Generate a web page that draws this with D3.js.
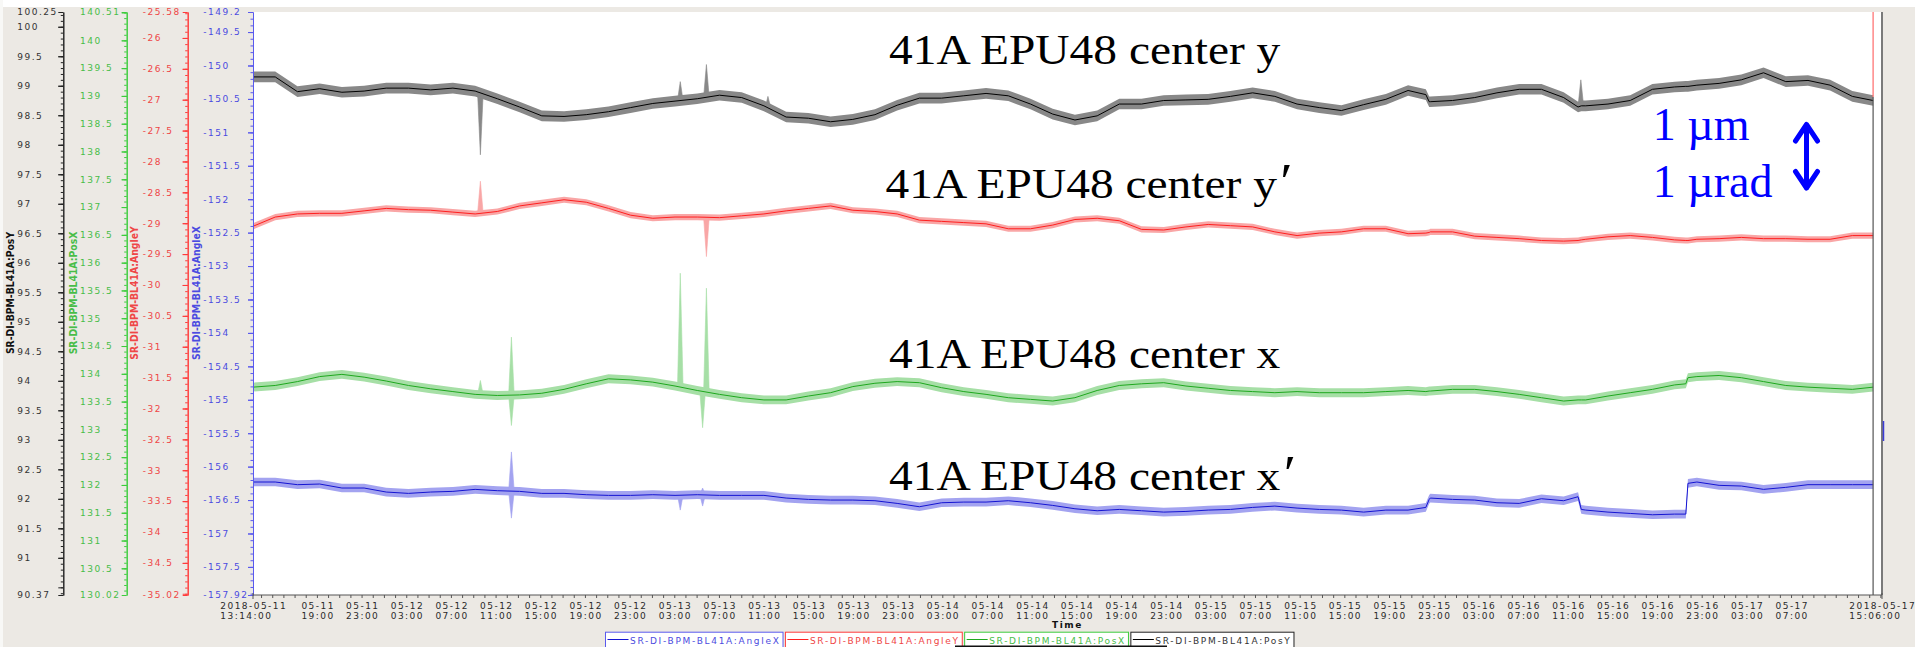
<!DOCTYPE html>
<html>
<head>
<meta charset="utf-8">
<script src="https://cdn.jsdelivr.net/npm/d3@7"></script>
<style>
body { margin: 0; background: #ece9e4; }
svg { display: block; }
</style>
</head>
<body>
<svg id="chart" width="1915" height="647"></svg>
<script>
/*jslint browser: true*/
/*globals d3*/

// hours after 2018-05-11 13:14 (UTC used as plain clock time)
var hours = [0, 1.99, 3.98, 5.97, 7.96, 9.95, 11.93, 13.92, 15.91, 17.90, 19.89, 21.88, 23.87, 25.86, 27.85,
    29.84, 31.83, 33.81, 35.80, 37.79, 39.78, 41.77, 43.76, 45.75, 47.74, 49.73, 51.72, 53.71, 55.69, 57.68,
    59.67, 61.66, 63.65, 65.64, 67.63, 69.62, 71.61, 73.60, 75.59, 77.57, 79.56, 81.55, 83.54, 85.53, 87.52,
    89.51, 91.50, 93.49, 95.48, 97.46, 99.45, 101.44, 103.43, 105.02, 105.32, 105.42, 107.41, 109.40, 111.39,
    113.38, 115.37, 117.36, 118.65, 118.94, 119.34, 121.33, 123.32, 125.31, 127.30, 128.30, 128.49, 129.29,
    131.28, 133.27, 135.26, 137.25, 139.24, 141.22, 143.21, 145.07];

var angleX = [-156.23, -156.23, -156.27, -156.26, -156.32, -156.32, -156.38, -156.40, -156.38, -156.37, -156.34,
    -156.36, -156.37, -156.40, -156.40, -156.42, -156.43, -156.43, -156.42, -156.43, -156.42, -156.43, -156.43,
    -156.43, -156.47, -156.49, -156.50, -156.50, -156.51, -156.55, -156.60, -156.54, -156.53, -156.53, -156.51,
    -156.54, -156.58, -156.63, -156.66, -156.64, -156.66, -156.68, -156.67, -156.65, -156.64, -156.61, -156.59,
    -156.62, -156.64, -156.65, -156.68, -156.65, -156.65, -156.61, -156.49, -156.47, -156.49, -156.50, -156.54,
    -156.55, -156.48, -156.51, -156.45, -156.64, -156.65, -156.68, -156.70, -156.72, -156.71, -156.71, -156.25,
    -156.23, -156.28, -156.29, -156.34, -156.31, -156.27, -156.27, -156.27, -156.27];

var angleY = [-29.05, -28.90, -28.85, -28.84, -28.84, -28.80, -28.76, -28.78, -28.79, -28.82, -28.85, -28.81,
    -28.72, -28.67, -28.62, -28.66, -28.76, -28.87, -28.92, -28.90, -28.90, -28.91, -28.88, -28.85, -28.80,
    -28.76, -28.72, -28.79, -28.81, -28.85, -28.95, -28.97, -28.99, -29.01, -29.09, -29.09, -29.03, -28.94,
    -28.92, -28.96, -29.10, -29.11, -29.06, -29.02, -29.04, -29.06, -29.14, -29.20, -29.16, -29.14, -29.09,
    -29.09, -29.17, -29.16, -29.15, -29.14, -29.14, -29.21, -29.23, -29.25, -29.28, -29.29, -29.28, -29.27,
    -29.26, -29.22, -29.20, -29.23, -29.27, -29.28, -29.28, -29.26, -29.25, -29.23, -29.25, -29.25, -29.26,
    -29.26, -29.20, -29.20];

var posX = [133.76, 133.79, 133.86, 133.95, 133.99, 133.94, 133.87, 133.79, 133.73, 133.68, 133.63, 133.61,
    133.62, 133.65, 133.72, 133.82, 133.91, 133.89, 133.85, 133.78, 133.70, 133.63, 133.57, 133.53, 133.53,
    133.60, 133.66, 133.77, 133.83, 133.86, 133.84, 133.75, 133.68, 133.63, 133.57, 133.54, 133.51, 133.57,
    133.70, 133.79, 133.82, 133.84, 133.78, 133.74, 133.70, 133.68, 133.66, 133.68, 133.66, 133.66, 133.66,
    133.68, 133.70, 133.68, 133.69, 133.69, 133.72, 133.72, 133.68, 133.63, 133.57, 133.51, 133.53, 133.53,
    133.53, 133.60, 133.66, 133.72, 133.80, 133.82, 133.93, 133.95, 133.97, 133.93, 133.86, 133.79, 133.76,
    133.74, 133.72, 133.76];

var posY = [99.15, 99.15, 98.90, 98.95, 98.89, 98.91, 98.96, 98.96, 98.93, 98.96, 98.91, 98.78, 98.64, 98.49,
    98.48, 98.51, 98.56, 98.63, 98.70, 98.74, 98.78, 98.84, 98.80, 98.66, 98.47, 98.45, 98.39, 98.43, 98.51,
    98.67, 98.79, 98.79, 98.83, 98.87, 98.83, 98.69, 98.52, 98.42, 98.49, 98.69, 98.69, 98.75, 98.76, 98.77,
    98.82, 98.88, 98.82, 98.69, 98.63, 98.58, 98.68, 98.77, 98.92, 98.85, 98.73, 98.73, 98.75, 98.80, 98.88,
    98.94, 98.94, 98.80, 98.64, 98.66, 98.66, 98.69, 98.75, 98.94, 98.98, 98.99, 98.99, 99.01, 99.04, 99.10,
    99.22, 99.07, 99.09, 99.01, 98.82, 98.75];

// short glitches: [hour, extreme value]
var angleXSpikes = [[23.14, -155.78], [23.14, -156.77], [38.26, -156.65], [40.26, -156.32], [40.26, -156.59]];
var angleYSpikes = [[20.36, -28.32], [40.60, -29.54]];
var posXSpikes = [[20.36, 133.88], [23.14, 134.66], [23.14, 133.07], [38.26, 135.81], [40.26, 133.03],
    [40.60, 135.54]];
var posYSpikes = [[20.36, 97.83], [38.26, 99.07], [40.60, 99.36], [46.11, 98.82], [118.90, 99.10]];

// half width of the min/max envelope, per series
var bandHalfWidth = [0.065, 0.05, 0.08, 0.09];

var seriesNames = ["SR-DI-BPM-BL41A:AngleX", "SR-DI-BPM-BL41A:AngleY", "SR-DI-BPM-BL41A:PosX",
    "SR-DI-BPM-BL41A:PosY"];
var axisDomains = [[-157.92, -149.2], [-35.02, -25.58], [130.02, 140.51], [90.37, 100.25]];

var titles = ["41A EPU48 center y", "41A EPU48 center y\u2032", "41A EPU48 center x", "41A EPU48 center x\u2032"];

(function () {
    "use strict";

    var svg = d3.select("#chart"),
        top = 12,
        bottom = 595,
        left = 253,
        right = 1882,
        start = Date.UTC(2018, 4, 11, 13, 14),
        end = Date.UTC(2018, 4, 17, 15, 6),
        font = "'DejaVu Sans', sans-serif",
        serif = "'Liberation Serif', 'Times New Roman', serif",
        x,
        styles,
        series,
        hourTicks,
        labelTicks,
        fmtDay = d3.utcFormat("%m-%d"),
        fmtHour = d3.utcFormat("%H:%M"),
        fmtFullDay = d3.utcFormat("%Y-%m-%d"),
        fmtFullHour = d3.utcFormat("%H:%M:%S"),
        xg,
        lx,
        xEnd;

    function toDate(h) {
        return new Date(start + h * 3600000);
    }

    function fmtNum(v) {
        return String(+v.toFixed(2));
    }

    svg.append("rect").attr("width", 1915).attr("height", 647).attr("fill", "#ece9e4");
    svg.append("rect").attr("width", 1915).attr("height", 7).attr("fill", "#fff");
    svg.append("rect").attr("width", 3).attr("height", 647).attr("fill", "#f8f8f6");
    svg.append("rect").attr("x", left).attr("y", top)
        .attr("width", right - left).attr("height", bottom - top).attr("fill", "#fff");

    x = d3.scaleUtc().domain([new Date(start), new Date(end)]).range([left, right]);

    styles = [
        {line: "#1414d2", band: "#a3a3f0", axis: "#5a5aee", text: "#4b4be0", axisX: 253, labelX: 203.3, titleX: 195.5},
        {line: "#ff1f1f", band: "#f9a6a6", axis: "#ff3b3b", text: "#ef4646", axisX: 187.7, labelX: 142.7, titleX: 134},
        {line: "#1ea81e", band: "#a6dfa6", axis: "#3ccc3c", text: "#48bd48", axisX: 126.7, labelX: 80, titleX: 72.5},
        {line: "#000", band: "#888", axis: "#222", text: "#333", axisX: 63.3, labelX: 17.3, titleX: 9.5}
    ];

    series = [angleX, angleY, posX, posY].map(function (vals, i) {
        return {
            name: seriesNames[i],
            style: styles[i],
            spread: bandHalfWidth[i],
            domain: axisDomains[i],
            spikes: [angleXSpikes, angleYSpikes, posXSpikes, posYSpikes][i],
            y: d3.scaleLinear().domain(axisDomains[i]).range([bottom, top]),
            data: hours.map(function (h, j) { return {date: toDate(h), h: h, v: vals[j]}; })
        };
    });

    // envelopes, glitches and mean lines
    series.forEach(function (s) {
        var y = s.y,
            g = svg.append("g"),
            bis = d3.bisector(function (d) { return d.h; }).left;

        g.append("path")
            .datum(s.data)
            .attr("fill", s.style.band)
            .attr("d", d3.area()
                .x(function (d) { return x(d.date); })
                .y0(function (d) { return y(d.v - s.spread); })
                .y1(function (d) { return y(d.v + s.spread); }));

        s.spikes.forEach(function (sp) {
            var i = bis(s.data, sp[0]),
                a = s.data[i - 1],
                b = s.data[i],
                base = a.v + (b.v - a.v) * (sp[0] - a.h) / (b.h - a.h),
                pts = [[sp[0] - 0.25, base], [sp[0], sp[1]], [sp[0] + 0.25, base]];
            g.append("path")
                .attr("fill", s.style.band)
                .attr("stroke", s.style.band)
                .attr("stroke-width", 0.6)
                .attr("d", d3.line()
                    .x(function (p) { return x(toDate(p[0])); })
                    .y(function (p) { return y(p[1]); })(pts) + "Z");
        });

        g.append("path")
            .datum(s.data)
            .attr("fill", "none")
            .attr("stroke", s.style.line)
            .attr("stroke-width", 1)
            .attr("d", d3.line()
                .x(function (d) { return x(d.date); })
                .y(function (d) { return y(d.v); }));
    });

    // end-of-data marker and plot border
    xEnd = x(toDate(hours[hours.length - 1]));
    svg.append("line").attr("x1", xEnd).attr("x2", xEnd)
        .attr("y1", top).attr("y2", 97).attr("stroke", "#ff6a6a").attr("stroke-width", 1.2);
    svg.append("line").attr("x1", xEnd).attr("x2", xEnd)
        .attr("y1", 97).attr("y2", bottom).attr("stroke", "#555").attr("stroke-width", 1.2);
    svg.append("line").attr("x1", right).attr("x2", right).attr("y1", top).attr("y2", bottom)
        .attr("stroke", "#7a7a7a").attr("stroke-width", 2);
    svg.append("line").attr("x1", right + 1.5).attr("x2", right + 1.5).attr("y1", 421).attr("y2", 441)
        .attr("stroke", "#3b3bd8").attr("stroke-width", 1.5);

    // value axes, labels flush left as in the archiver viewer
    series.forEach(function (s) {
        var y = s.y,
            lo = s.domain[0],
            hi = s.domain[1],
            halves = d3.range(Math.ceil(lo * 2), Math.floor(hi * 2) + 1).map(function (k) { return k / 2; }),
            tenths = d3.range(Math.ceil(lo * 10), Math.floor(hi * 10) + 1).map(function (k) { return k / 10; }),
            labelled = [lo].concat(halves.filter(function (v) {
                return Math.abs(y(v) - y(lo)) > 12 && Math.abs(y(v) - y(hi)) > 12;
            }), [hi]),
            gMinor,
            gMajor;

        gMinor = svg.append("g").attr("transform", "translate(" + s.style.axisX + ",0)")
            .call(d3.axisLeft(y).tickValues(tenths).tickSize(2.5).tickSizeOuter(0).tickFormat(""));
        gMajor = svg.append("g").attr("transform", "translate(" + s.style.axisX + ",0)")
            .call(d3.axisLeft(y).tickValues(halves.concat(labelled)).tickSize(5).tickSizeOuter(0).tickFormat(""));
        [gMinor, gMajor].forEach(function (g) {
            g.selectAll("path, line").attr("stroke", s.style.axis).attr("stroke-width", 1);
        });

        svg.append("g").selectAll("text").data(labelled).enter().append("text")
            .attr("x", s.style.labelX)
            .attr("y", function (v) { return y(v) + 3.3; })
            .attr("fill", s.style.text)
            .style("font-family", font)
            .style("font-size", "9px")
            .style("letter-spacing", "1.5px")
            .text(fmtNum);

        svg.append("text")
            .attr("transform", "translate(" + s.style.titleX + ",293) scale(1.2,1) rotate(-90)")
            .attr("text-anchor", "middle")
            .attr("dominant-baseline", "central")
            .attr("fill", s.style.axis === "#222" ? "#111" : s.style.text)
            .style("font-family", font)
            .style("font-size", "9.3px")
            .style("font-weight", "bold")
            .text(s.name);
    });

    // time axis
    hourTicks = d3.utcHour.range(new Date(start), new Date(end));
    labelTicks = hourTicks.filter(function (d) {
        return d.getUTCHours() % 4 === 3 && x(d) - left > 50 && right - x(d) > 50;
    });
    xg = svg.append("g");
    xg.append("line").attr("x1", left).attr("x2", right).attr("y1", bottom).attr("y2", bottom)
        .attr("stroke", "#555");
    xg.selectAll("line.minor").data(hourTicks).enter().append("line")
        .attr("class", "minor")
        .attr("x1", function (d) { return x(d); })
        .attr("x2", function (d) { return x(d); })
        .attr("y1", bottom)
        .attr("y2", bottom + 3)
        .attr("stroke", "#555");
    [new Date(start), new Date(end)].forEach(function (d) {
        xg.append("line").attr("x1", x(d)).attr("x2", x(d)).attr("y1", bottom - 2).attr("y2", bottom + 4)
            .attr("stroke", "#555");
    });

    function timeLabel(d, a, b) {
        var t = xg.append("text")
                .attr("fill", "#2a2a2a")
                .style("font-family", font)
                .style("font-size", "9px")
                .style("letter-spacing", "1.45px"),
            t1 = t.append("tspan").attr("y", 608.5).text(a),
            t2 = t.append("tspan").attr("y", 618.5).text(b),
            w = Math.max(t1.node().getComputedTextLength(), t2.node().getComputedTextLength()) - 1.45;
        t1.attr("x", x(d) - w / 2);
        t2.attr("x", x(d) - w / 2);
    }
    timeLabel(new Date(start), fmtFullDay(new Date(start)), fmtFullHour(new Date(start)));
    labelTicks.forEach(function (d) { timeLabel(d, fmtDay(d), fmtHour(d)); });
    timeLabel(new Date(end), fmtFullDay(new Date(end)), fmtFullHour(new Date(end)));

    svg.append("text")
        .attr("x", (left + right) / 2)
        .attr("y", 627.7)
        .attr("text-anchor", "middle")
        .attr("fill", "#111")
        .style("font-family", font)
        .style("font-size", "9px")
        .style("font-weight", "bold")
        .style("letter-spacing", "1.6px")
        .text("Time");

    // legend
    lx = 605;
    series.forEach(function (s) {
        var item = svg.append("g").attr("transform", "translate(" + lx + ",631.7)"),
            t,
            w;
        t = item.append("text")
            .attr("x", 25)
            .attr("y", 12.3)
            .attr("fill", s.style.text)
            .style("font-family", font)
            .style("font-size", "9px")
            .style("letter-spacing", "1.7px")
            .text(s.name);
        w = t.node().getComputedTextLength() + 27;
        item.insert("rect", "text")
            .attr("x", 0.5).attr("y", 0.5)
            .attr("width", w).attr("height", 22)
            .attr("fill", "#fff")
            .attr("stroke", s.style.axis);
        item.append("line").attr("x1", 2.5).attr("x2", 23.5).attr("y1", 7.8).attr("y2", 7.8)
            .attr("stroke", s.style.line);
        lx += w + 2.4;
    });
    svg.append("line").attr("x1", 955).attr("x2", 1167).attr("y1", 646.2).attr("y2", 646.2)
        .attr("stroke", "#111").attr("stroke-width", 1.5);

    // slide annotations
    [[889, 63.5], [885.6, 198], [889, 367.5], [889, 489.5]].forEach(function (p, i) {
        var t = svg.append("text")
            .attr("transform", "translate(" + p[0] + "," + p[1] + ") scale(1.13,1)")
            .attr("fill", "#000")
            .style("font-family", serif)
            .style("font-size", "42px");
        t.append("tspan").text(titles[i].replace("\u2032", ""));
        if (titles[i].indexOf("\u2032") >= 0) {
            t.append("tspan").attr("dx", 3).style("font-size", "50px").text("\u2032");
        }
    });
    svg.append("text").attr("x", 1652.7).attr("y", 139.8)
        .attr("fill", "#0000ff")
        .style("font-family", serif)
        .style("font-size", "46px")
        .text("1 \u00b5m");
    svg.append("text").attr("x", 1652.7).attr("y", 197)
        .attr("fill", "#0000ff")
        .style("font-family", serif)
        .style("font-size", "46px")
        .text("1 \u00b5rad");
    svg.append("path")
        .attr("d", "M1806.5,124.5V188M1795.5,141L1806.5,124.5L1817.5,141M1795.5,171.5L1806.5,188L1817.5,171.5")
        .attr("fill", "none")
        .attr("stroke", "#0000ff")
        .attr("stroke-width", 5)
        .attr("stroke-linecap", "round")
        .attr("stroke-linejoin", "round");
}());
</script>
</body>
</html>
